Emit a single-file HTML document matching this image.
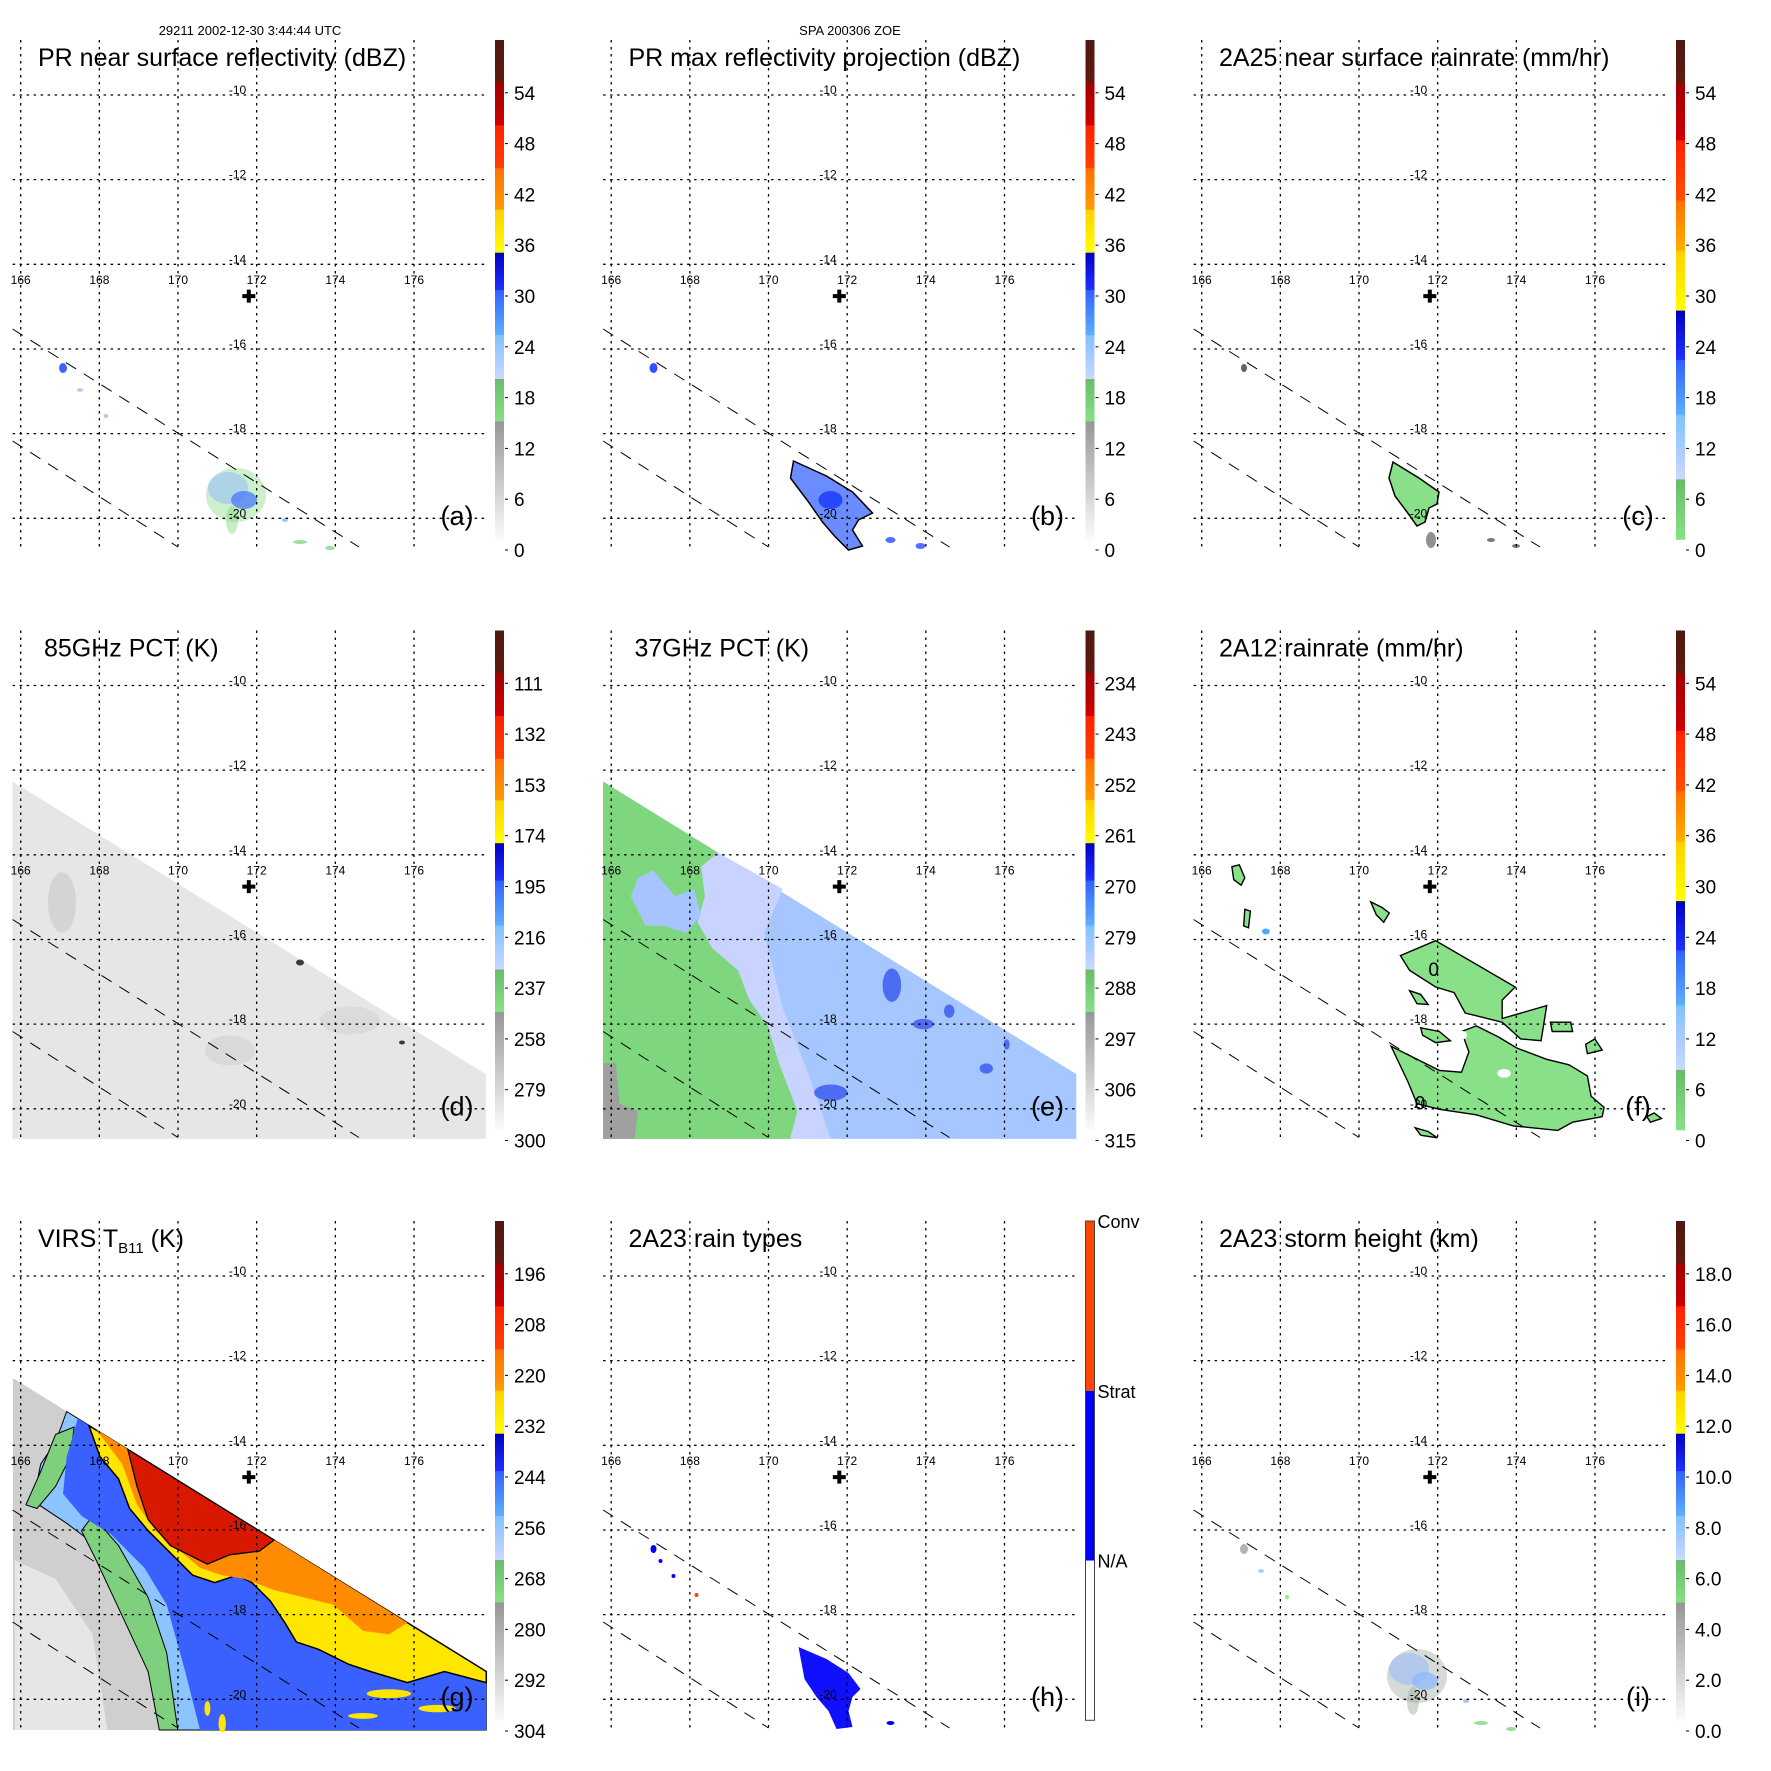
<!DOCTYPE html>
<html><head><meta charset="utf-8"><title>TRMM overpass panels</title>
<style>
html,body{margin:0;padding:0;background:#fff;}
svg{display:block;font-family:"Liberation Sans",Arial,sans-serif;}
</style></head>
<body>
<svg id="fig" xmlns="http://www.w3.org/2000/svg" width="1771" height="1771" viewBox="0 0 1771 1771">
<rect x="0" y="0" width="1771" height="1771" fill="#fff"/>
<text x="250" y="35" font-size="13" text-anchor="middle">29211 2002-12-30 3:44:44 UTC</text>
<text x="850" y="35" font-size="13" text-anchor="middle">SPA 200306 ZOE</text>
</svg>
<script>
// ---- axis data ----
const lonTicks = [166,168,170,172,174,176];
const latTicks = [-10,-12,-14,-16,-18,-20];
const titles = ["PR near surface reflectivity (dBZ)","PR max reflectivity projection (dBZ)","2A25 near surface rainrate (mm/hr)",
                "85GHz PCT (K)","37GHz PCT (K)","2A12 rainrate (mm/hr)","VIRS T_B11 (K)","2A23 rain types","2A23 storm height (km)"];
const panelTags = ["(a)","(b)","(c)","(d)","(e)","(f)","(g)","(h)","(i)"];
const cbA = ["54","48","42","36","30","24","18","12","6","0"];
const cbD = ["111","132","153","174","195","216","237","258","279","300"];
const cbE = ["234","243","252","261","270","279","288","297","306","315"];
const cbG = ["196","208","220","232","244","256","268","280","292","304"];
const cbI = ["18.0","16.0","14.0","12.0","10.0","8.0","6.0","4.0","2.0","0.0"];
const cbLabels = [cbA,cbA,cbA,cbD,cbE,cbA,cbG,null,cbI];
const cbKind = ["std","std","rain","std","std","rain","std","type","std"];
const stormLon = 171.8, stormLat = -14.75;

const NS="http://www.w3.org/2000/svg";
const svg=document.getElementById('fig');
function el(tag,attrs,parent){const e=document.createElementNS(NS,tag);for(const k in attrs)e.setAttribute(k,attrs[k]);(parent||svg).appendChild(e);return e;}
function gx(lon){return 20.7+(lon-166)*39.33;}
function gy(lat){return 95+(-10-lat)*42.33;}
const OFF=590.5;

const defs=el('defs',{});
let gid=0;
function grad(c1,c2){const id='g'+(gid++);const lg=el('linearGradient',{id:id,x1:0,y1:1,x2:0,y2:0},defs);el('stop',{offset:0,'stop-color':c1},lg);el('stop',{offset:1,'stop-color':c2},lg);return 'url(#'+id+')';}
const segStd=[[0,0.237,'#fbfbfb','#969696'],[0.237,0.322,'#86e286','#6aba6a'],[0.322,0.41,'#ccd8ff','#80c0ff'],[0.41,0.5,'#5cb0ff','#3060ff'],[0.5,0.575,'#2030ff','#0000c0'],[0.575,0.661,'#ffff00','#ffd000'],[0.661,0.744,'#ff9c00','#ff7000'],[0.744,0.83,'#ff4000','#ff2000'],[0.83,0.916,'#d00000','#a00000'],[0.916,1,'#601a10','#4e1810']];
const segRain=[[0,0.121,'#86e286','#6aba6a'],[0.121,0.25,'#ccd8ff','#80c0ff'],[0.25,0.36,'#5cb0ff','#3060ff'],[0.36,0.459,'#2030ff','#0000c0'],[0.459,0.578,'#ffff00','#ffd000'],[0.578,0.679,'#ffb000','#ff7000'],[0.679,0.8,'#ff5000','#ff2000'],[0.8,0.915,'#d00000','#a00000'],[0.915,1,'#601a10','#4e1810']];

function poly(g,pts,fill,stroke,sw,name){
  const p=el('polygon',{points:pts.map(q=>q[0].toFixed(1)+','+q[1].toFixed(1)).join(' '),fill:fill,stroke:stroke||'none','stroke-width':sw||0},g);
  
  
  return p;
}
function tz(pts,s,dx,dy){return pts.map(q=>[q[0]/s+dx,q[1]/s+dy]);}
function ell(g,cx,cy,rx,ry,fill,op,name){
  const e=el('ellipse',{cx:cx,cy:cy,rx:rx,ry:ry,fill:fill,opacity:op||1},g);
  
  
  return e;
}

const swathZ=[[35,490],[1313,1280],[1313,1455],[35,1455]];
function imagery(i,g){
  if(i===0||i===8){
    const cg = i===0?'#80d880':'#9aa69a';
    ell(g,236,495,30,27,cg,0.4);
    ell(g,228,488,20,16,'#90b8ff',0.5);
    ell(g,244,500,13,9,i===0?'#4070ff':'#88b8ff',0.7);
    ell(g,232,520,6,14,cg,0.45);
    ell(g,63,368,4,5,i===0?'#3050ff':'#aaaaaa',0.9);
    ell(g,80,390,3,2,'#a0c0ff',0.8);
    ell(g,106,416,2,2,'#80d880',0.8);
    ell(g,300,542,7,2,'#80d880',0.8);
    ell(g,330,548,5,2,'#80d880',0.8);
    ell(g,285,520,3,2,'#90b8ff',0.8);
  } else if(i===1){
    const pts=[[203,461],[236,476],[262,492],[282,513],[268,520],[262,530],[272,546],[258,550],[244,536],[232,522],[218,502],[200,478]];
    poly(g,pts,'#6a8cff','#000',1.5,'reflectivity-core');
    ell(g,240,500,12,9,'#2040ff',0.9);
    ell(g,63,368,4,5,'#3050ff',1);
    ell(g,300,540,5,3,'#5070ff',1);ell(g,330,546,5,3,'#5070ff',1);
  } else if(i===2){
    const pts=[[212,462],[238,478],[258,492],[256,504],[248,508],[244,522],[236,526],[226,512],[214,496],[208,478]];
    poly(g,pts,'#88e088','#000',1.5,'rain-cluster');
    ell(g,250,540,5,8,'#222',0.5);ell(g,310,540,4,2,'#222',0.6);ell(g,335,546,4,2,'#222',0.6);
    ell(g,63,368,3,4,'#222',0.7);
  } else if(i===3){
    poly(g,tz(swathZ,2.7,-0.5,9.5),'#e6e6e6','none',0,'swath');
    ell(g,62,312,14,30,'#cfcfcf',0.8);ell(g,230,460,25,15,'#d6d6d6',0.8);ell(g,350,430,30,14,'#d8d8d8',0.8);
    ell(g,300,372,4,3,'#111',0.8);ell(g,402,452,3,2,'#111',0.8);
  } else if(i===4){
    const s=2.7,dx=-0.5,dy=9.5;
    poly(g,tz(swathZ,s,dx,dy),'#a6c6ff','none',0,'swath');
    poly(g,tz([[345,682],[520,780],[470,900],[520,1100],[590,1280],[650,1455],[540,1455],[510,1250],[430,1080],[330,940],[290,870],[310,800],[300,720]],s,dx,dy),'#c8d4ff','none',0,'light-band');
    poly(g,tz([[35,490],[345,682],[300,720],[310,800],[290,870],[330,940],[400,1000],[430,1080],[480,1150],[510,1250],[560,1380],[540,1455],[35,1455]],s,dx,dy),'#7ed67e','none',0,'warm-region');
    poly(g,tz([[130,750],[170,730],[230,800],[280,780],[300,850],[260,900],[200,880],[150,880],[110,800]],s,dx,dy),'#a8c4ff','none',0,'cool-patch');
    poly(g,tz([[35,1250],[70,1250],[80,1360],[130,1380],[120,1455],[35,1455]],s,dx,dy),'#a0a0a0','none',0,'gray-patch');
    [[815,1040,25,45],[650,1330,45,22],[970,1110,14,18],[900,1145,28,14],[1070,1265,18,14],[1125,1200,8,14]].forEach(q=>ell(g,q[0]/s+dx,q[1]/s+dy,q[2]/s,q[3]/s,'#3555f0',0.8,'cold-spot'));
  } else if(i===5){
    const s=2.7,dx=-1,dy=9.5;
    const blobs=[
      [[595,960],[690,920],[905,1045],[870,1080],[870,1130],[990,1095],[975,1190],[920,1185],[870,1140],[770,1115],[740,1060],[690,1045],[620,1000]],
      [[570,1205],[640,1240],[700,1270],[760,1275],[780,1220],[760,1165],[800,1150],[860,1180],[910,1210],[990,1240],[1050,1255],[1100,1285],[1110,1340],[1145,1370],[1140,1395],[1060,1410],[1020,1432],[900,1420],[800,1390],[700,1375],[640,1360],[615,1300]],
      [[140,720],[160,715],[175,750],[165,770],[145,755]],
      [[515,815],[545,830],[565,845],[550,870],[530,850]],
      [[1000,1140],[1055,1140],[1060,1165],[1005,1165]],
      [[1095,1200],[1120,1185],[1140,1215],[1100,1225]],
      [[1260,1395],[1280,1385],[1300,1400],[1270,1410]],
      [[635,1425],[670,1435],[695,1452],[650,1445]],
      [[175,835],[190,840],[185,885],[172,880]],
      [[620,1055],[650,1065],[670,1092],[640,1090]],
      [[650,1155],[700,1165],[730,1190],[690,1195],[655,1175]]];
    blobs.forEach(b=>poly(g,tz(b,s,dx,dy),'#88e088','#000',1.4,'rain-area'));
    [[760,1175,15,12],[875,1278,18,12],[245,1025,10,10]].forEach(q=>ell(g,q[0]/s+dx,q[1]/s+dy,q[2]/s,q[3]/s,'#fff',1,'rain-hole'));
    const t1=el('text',{x:685/s+dx,y:1015/s+dy,'font-size':19,'text-anchor':'middle'},g);t1.textContent='0';
    
    
    const t2=el('text',{x:648/s+dx,y:1375/s+dy,'font-size':19,'text-anchor':'middle'},g);t2.textContent='0';
    
    
    ell(g,232/s+dx,895/s+dy,4,3,'#50a8ff',1);
  } else if(i===6){
    const s=2.7,dx=0,dy=9;
    const sw=[[35,508],[1313,1300],[1313,1458],[35,1458]];
    poly(g,tz(sw,s,dx,dy),'#cfcfcf','none',0,'swath');
    poly(g,tz([[40,1000],[150,1050],[250,1200],[290,1458],[40,1458]],s,dx,dy),'#e6e6e6','none',0,'clear-region');
    poly(g,tz([[180,598],[1313,1300],[1313,1458],[470,1458],[440,1300],[390,1160],[330,1060],[260,960],[180,900],[90,840],[110,740],[150,680]],s,dx,dy),'#8cc4ff','#000',1,'cloud-region');
    poly(g,tz([[250,880],[320,960],[400,1100],[450,1250],[480,1458],[430,1458],[400,1300],[330,1150],[260,1000],[220,920]],s,dx,dy),'#7ed07e','#000',1,'cloud-edge');
    poly(g,tz([[150,660],[200,640],[190,720],[150,800],[100,860],[70,850],[110,760]],s,dx,dy),'#7ed07e','#000',1,'cloud-edge');
    poly(g,tz([[210,617],[1313,1300],[1313,1458],[540,1458],[500,1300],[450,1120],[390,1020],[300,930],[220,880],[170,820],[180,720]],s,dx,dy),'#3a60ff','none',0,'cold-cloud');
    poly(g,tz([[240,636],[1313,1300],[1313,1330],[1200,1300],[1100,1330],[1000,1300],[940,1280],[860,1240],[800,1220],[770,1170],[730,1110],[680,1060],[640,1040],[580,1060],[520,1040],[470,990],[400,920],[350,860],[320,780],[270,720]],s,dx,dy),'#ffe600','#000',1.5,'very-cold-cloud');
    poly(g,tz([[260,647],[1100,1168],[1050,1200],[980,1190],[900,1120],[820,1100],[740,1080],[660,1050],[600,1040],[540,1020],[480,970],[420,920],[370,850],[330,740]],s,dx,dy),'#ff8c00','none',0,'anvil-orange');
    poly(g,tz([[345,700],[740,945],[700,975],[620,985],[560,1010],[520,990],[460,960],[400,890],[370,800]],s,dx,dy),'#d81800','#000',1.3,'anvil-core');
    [[1050,1360,60,12],[1180,1400,50,10],[980,1420,40,8],[600,1440,10,25],[560,1400,8,20]].forEach(q=>ell(g,q[0]/s+dx,q[1]/s+dy,q[2]/s,q[3]/s,'#ffe600',1,'cold-streak'));
  } else if(i===7){
    const pts=[[208,466],[236,478],[258,492],[270,508],[262,516],[258,530],[262,546],[246,548],[238,530],[226,516],[214,498]];
    poly(g,pts,'#1010ff','none',0,'stratiform-area');
    ell(g,63,368,3,4,'#0000ff',1);ell(g,70,380,2,2,'#0000ff',1);ell(g,83,395,2,2,'#0000ff',1);
    ell(g,106,414,2,2,'#ff4000',1);ell(g,300,542,4,2,'#0000ff',1);
  }
}

for(let i=0;i<9;i++){
  const col=i%3,row=Math.floor(i/3);
  const g=el('g',{transform:'translate('+(col*OFF)+','+(row*OFF)+')'});
  
  
  imagery(i,g);
  lonTicks.forEach(lon=>{
    const l=el('line',{x1:gx(lon),x2:gx(lon),y1:40,y2:548,stroke:'#000','stroke-width':1.3,'stroke-dasharray':'2.5,4.5'},g);
    
    
    const t=el('text',{x:gx(lon),y:284,'font-size':12,'text-anchor':'middle'},g);t.textContent=String(lon);
    
    
  });
  latTicks.forEach(lat=>{
    const l=el('line',{x1:12.6,x2:487,y1:gy(lat),y2:gy(lat),stroke:'#000','stroke-width':1.3,'stroke-dasharray':'2.5,4.5'},g);
    
    
    const t=el('text',{x:237.5,y:gy(lat)-1,'font-size':12,'text-anchor':'middle'},g);t.textContent=String(lat);
    
    
  });
  [[12.6,329,359,547],[12.6,441,178,547]].forEach((q,k)=>{
    const l=el('line',{x1:q[0],y1:q[1],x2:q[2],y2:q[3],stroke:'#000','stroke-width':1,'stroke-dasharray':'12,9'},g);
    
    
  });
  const cx=gx(stormLon),cy=gy(stormLat);
  const cr=el('path',{d:'M'+(cx-6.5)+' '+(cy-2)+'h13v4h-13zM'+(cx-2)+' '+(cy-6.5)+'h4v13h-4z',fill:'#000'},g);
  
  
  const tx=(i===3||i===4)?44:38;
  const tt=el('text',{x:tx,y:66,'font-size':25},g);
  if(i===6){tt.textContent='VIRS T';const sb=el('tspan',{'font-size':15,dy:6},tt);sb.textContent='B11';const sp=el('tspan',{dy:-6},tt);sp.textContent=' (K)';}
  else tt.textContent=titles[i];
  
  
  const tg=el('text',{x:457,y:525,'font-size':27,'text-anchor':'middle'},g);tg.textContent=panelTags[i];
  
  
  const cb=el('g',{},g);
  
  
  const top=40,bot=539.3,H=bot-top,X=495,W=9;
  if(cbKind[i]==='type'){
    const segs=[[0,0.32,'#ffffff'],[0.32,0.66,'#0000ff'],[0.66,1,'#ff4400']];
    segs.forEach(s=>{const r=el('rect',{x:X,y:bot-s[1]*H,width:W,height:(s[1]-s[0])*H,fill:s[2]},cb);
      
      });
    const o=el('rect',{x:X,y:top,width:W,height:H,fill:'none',stroke:'#444','stroke-width':1},cb);
    
    
    [['Conv',1],['Strat',0.66],['N/A',0.32]].forEach(q=>{
      const t=el('text',{x:507,y:bot-q[1]*H+7,'font-size':18},cb);t.textContent=q[0];
      
      
    });
  } else {
    const segs=cbKind[i]==='rain'?segRain:segStd;
    segs.forEach(s=>{const r=el('rect',{x:X,y:bot-s[1]*H,width:W,height:(s[1]-s[0])*H+0.5,fill:grad(s[2],s[3])},cb);
      
      });
    const labs=cbLabels[i];
    labs.forEach((lab,k)=>{
      const yy=550-50.8*(labs.length-1-k);
      const tk=el('line',{x1:505,x2:508,y1:yy,y2:yy,stroke:'#000','stroke-width':1},cb);
      
      
      const t=el('text',{x:514,y:yy+7,'font-size':19},cb);t.textContent=lab;
      
      
    });
  }
}
</script>
</body></html>
